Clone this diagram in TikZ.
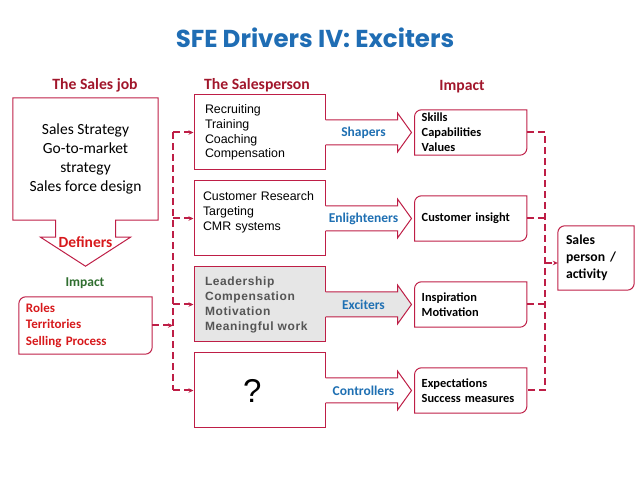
\documentclass[tikz,border=0pt]{standalone}
\usepackage{fontspec}
\setmainfont{Carlito}
\newfontfamily\arialfont{Liberation Sans}
\newfontfamily\titlefont{Poppins}
\usepackage{xcolor}
\usepackage{tikz}
\usetikzlibrary{arrows.meta, positioning, calc}
\definecolor{sfeblue}{HTML}{1F6DB4}
\definecolor{labelblue}{HTML}{1F70B3}
\definecolor{headred}{HTML}{A1162B}
\definecolor{framered}{HTML}{BE1E46}
\definecolor{textred}{HTML}{D7191C}
\definecolor{impactgreen}{HTML}{2F6E2F}
\definecolor{grayfill}{HTML}{E6E6E6}
\definecolor{graytext}{HTML}{555555}
\tikzset{
  frame/.style={draw=framered, line width=1pt},
  salesbox/.style={rectangle, draw=framered, line width=1pt, fill=white, minimum width=131pt, minimum height=75pt, inner xsep=11pt, inner ysep=0pt, text width=109pt, align=left, font=\arialfont\fontsize{12.4}{14.7}\selectfont},
  impactbox/.style={rectangle, minimum width=112pt, minimum height=45pt, inner xsep=7pt, inner ysep=0pt, text width=98pt, align=left, font=\bfseries\fontsize{12.4}{15}\selectfont},
  head/.style={font=\bfseries\fontsize{15.7}{18}\selectfont, text=headred},
  arrowlabel/.style={font=\bfseries\fontsize{13.5}{16}\selectfont, text=labelblue},
  bus/.style={draw=framered, line width=2pt, dash pattern=on 7pt off 4pt},
  tip/.style={-{Stealth[length=5pt,width=4.5pt]}}
}
% frame with two rounded corners (top left, bottom right)
\newcommand\roundframe[1]{\draw[frame] ([yshift=-7pt]#1.north west) arc[start angle=180, end angle=90, radius=7pt] -- (#1.north east) -- ([yshift=7pt]#1.south east) arc[start angle=0, end angle=-90, radius=7pt] -- (#1.south west) -- cycle;}
% block arrow leaving a box: box, fill, label
\newcommand\blockarrow[3]{%
  \fill[#2] ([xshift=-0.8pt,yshift=12.5pt]#1.east) -- ++(72.8,0) -- ++(0,7) -- ++(14,-19.5) -- ++(-14,-19.5) -- ++(0,7) -- ++(-72.8,0) -- cycle;
  \draw[frame] ([yshift=12.5pt]#1.east) -- ++(72,0) -- ++(0,7) -- ++(14,-19.5) -- ++(-14,-19.5) -- ++(0,7) -- ++(-72,0);
  \node[arrowlabel] (#1lbl) at ([xshift=38pt]#1.east) {#3};}

\begin{document}
\begin{tikzpicture}[x=1pt, y=1pt]
    \useasboundingbox (0,0) rectangle (638,479);
    % Title and headings
    \node[font=\titlefont\bfseries\fontsize{24.5}{28}\selectfont, text=sfeblue] (title) at (315,441) {SFE Drivers IV: Exciters};
    \node[head] (jobhead) at (95,394) {The Sales job};
    \node[head] (personhead) at (257,394) {The Salesperson};
    \node[head] (impacthead) at (462,392) {Impact};

    % The sales job
    \node[minimum width=145pt, minimum height=122pt, align=center, font=\fontsize{15.5}{19}\selectfont] (job) at (85.5,320) {Sales Strategy\\Go-to-market\\strategy\\Sales force design};
    \draw[frame] (job.south west) -- (job.north west) -- (job.north east) -- (job.south east) -- ([xshift=30pt]job.south) -- ++(0,-17) -- ++(15,0) -- ++(-45,-29) -- ++(-45,29) -- ++(15,0) -- ++(0,17) -- cycle;
    \node[font=\bfseries\fontsize{15.5}{18}\selectfont, text=textred] (definers) at ([yshift=-22pt]job.south) {Definers};
    \node[font=\bfseries\fontsize{13.5}{16}\selectfont, text=impactgreen] (jobimpact) at (85,196) {Impact};
    \node[minimum width=133pt, minimum height=57pt, inner xsep=7pt, text width=119pt, align=left, font=\bfseries\fontsize{13}{16.5}\selectfont, text=textred] (roles) at (85.5,153.5) {Roles\\Territories\\Selling Process};
    \roundframe{roles}

    % The salesperson
    \node[salesbox] (shape) at (259.5,346.5) {Recruiting\\Training\\Coaching\\Compensation};
    \node[salesbox, below=10pt of shape, inner xsep=9pt, text width=113pt] (enlight) {Customer Research\\Targeting\\CMR systems\\\mbox{}};
    \node[salesbox, below=10pt of enlight, fill=grayfill, text=graytext, font=\arialfont\bfseries\addfontfeature{LetterSpace=5}\fontsize{12}{15}\selectfont] (excite) {Leadership\\Compensation\\Motivation\\Meaningful work};
    \node[salesbox, below=10pt of excite, font=\arialfont\fontsize{33}{36}\selectfont] (control) {\hspace*{38pt}?};
    \blockarrow{shape}{white}{Shapers}
    \blockarrow{enlight}{white}{Enlighteners}
    \blockarrow{excite}{grayfill}{Exciters}
    \blockarrow{control}{white}{Controllers}

    % Impact
    \node[impactbox, right=89pt of shape] (skills) {Skills\\Capabilities\\Values};
    \node[impactbox, right=89pt of enlight] (insight) {Customer insight};
    \node[impactbox, right=89pt of excite] (inspire) {Inspiration\\Motivation};
    \node[impactbox, right=89pt of control] (expect) {Expectations\\Success measures};
    \foreach \b in {skills, insight, inspire, expect} {\roundframe{\b}}
    \node[minimum width=76pt, minimum height=64pt, inner xsep=8pt, text width=60pt, align=left, font=\bfseries\fontsize{13.7}{17}\selectfont] (sales) at (596,221) {Sales\\person\hspace{5pt}/\\activity};
    \roundframe{sales}

    % Dashed links
    \coordinate (lbus) at (173,0);
    \coordinate (rbus) at (545,0);
    \draw[bus] (lbus |- shape.west) -- (lbus |- control.west);
    \foreach \b in {shape, enlight, excite, control}
      \draw[bus, tip] (lbus |- \b.west) -- (\b.west);
    \draw[bus, tip] (roles.east) -- (lbus |- roles.east);
    \draw[bus] (skills.east) -- (rbus |- skills.east) -- (rbus |- expect.east) -- (expect.east);
    \draw[bus] (insight.east) -- (rbus |- insight.east);
    \draw[bus] (inspire.east) -- (rbus |- inspire.east);
    \draw[bus, tip] ($(rbus |- sales.west)+(0,-5)$) -- ($(sales.west)+(0,-5)$);
\end{tikzpicture}
\end{document}
